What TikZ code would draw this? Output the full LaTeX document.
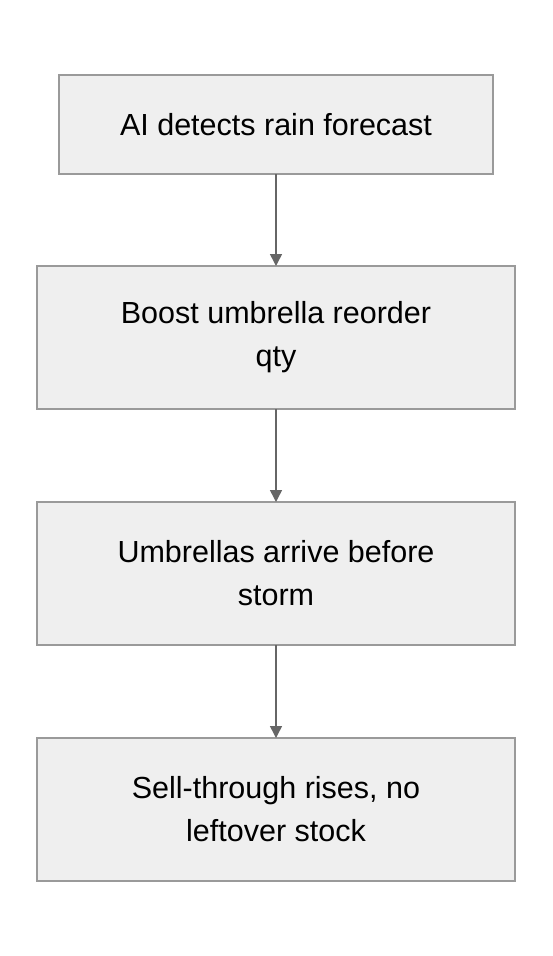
\documentclass[tikz,border=0pt]{standalone}
\usepackage{fontspec}
\setmainfont{Liberation Sans}
\usetikzlibrary{arrows.meta,positioning}
\definecolor{boxfill}{HTML}{EFEFEF}
\definecolor{boxline}{HTML}{9A9A9A}
\definecolor{arrline}{HTML}{666666}
\tikzset{%
    blk/.style={rectangle, draw=boxline, fill=boxfill, line width=1.5pt, align=center,
        font=\fontsize{30.5}{43}\selectfont, inner sep=0pt, outer sep=0pt},
    wblk/.style={blk, minimum width=478pt, minimum height=143pt},
    arr/.style={line width=1.5pt, draw=arrline, -{Triangle[length=12pt, width=12pt, fill=arrline]}},
}
\begin{document}
\begin{tikzpicture}
    \useasboundingbox (0,0) rectangle (552pt,-956pt);
    \node [blk, minimum width=434pt, minimum height=99pt] (rain) at (276pt,-124.5pt) {AI detects rain forecast};
    \node [wblk, below=92pt of rain] (boost) {Boost umbrella reorder\\qty};
    \node [wblk, below=93pt of boost] (arrive) {Umbrellas arrive before\\storm};
    \node [wblk, below=93pt of arrive] (sell) {Sell-through rises, no\\leftover stock};
    \draw [arr] (rain) -- (boost);
    \draw [arr] (boost) -- (arrive);
    \draw [arr] (arrive) -- (sell);
\end{tikzpicture}
\end{document}
